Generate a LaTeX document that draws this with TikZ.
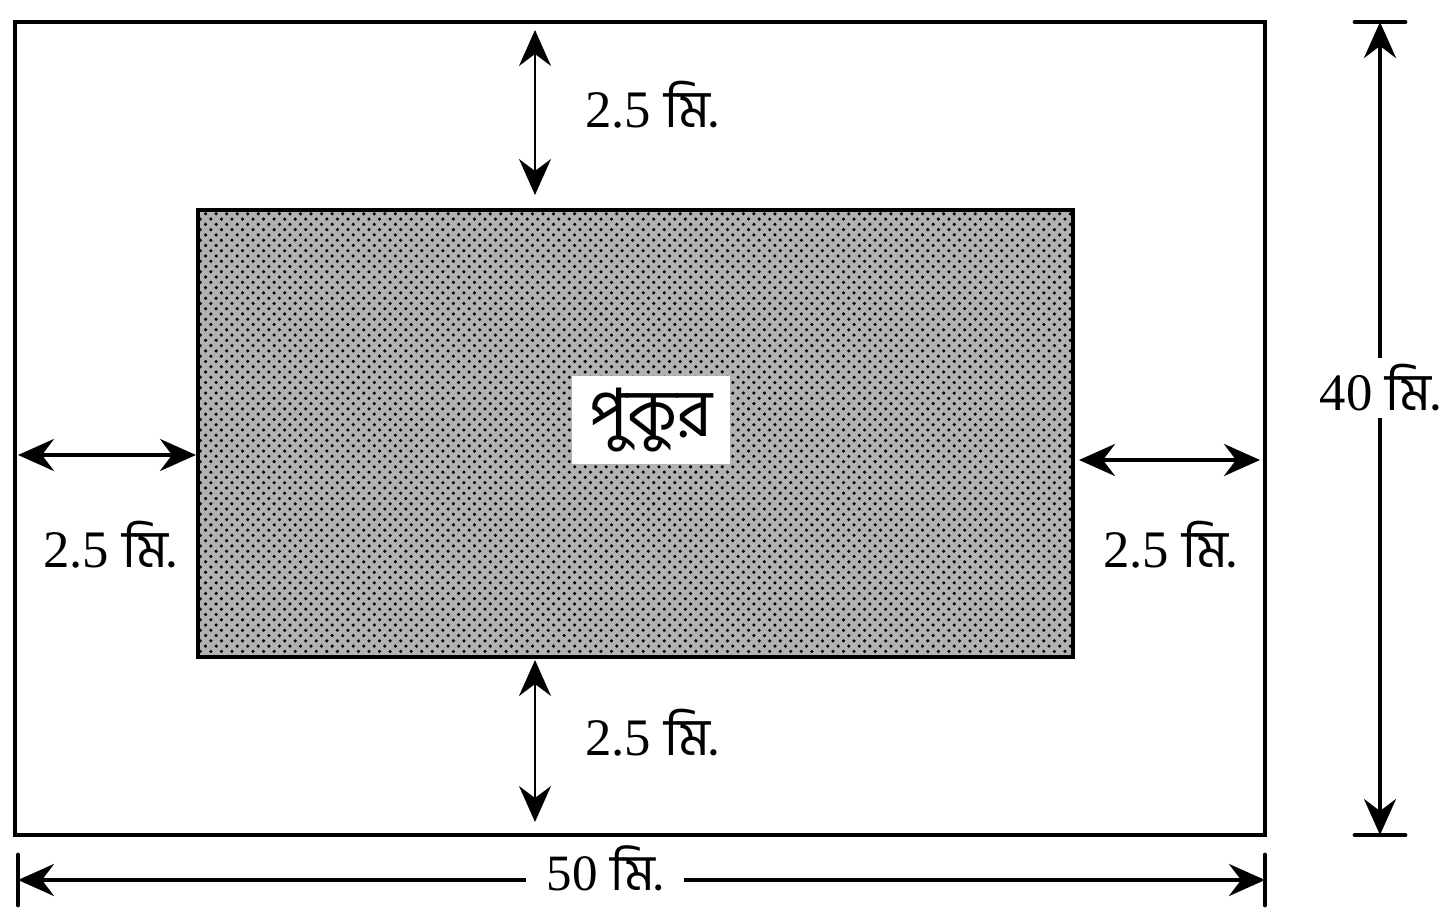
\documentclass[tikz,border=0pt]{standalone}
\usepackage{fontspec}
\setmainfont{Liberation Serif}
\newfontfamily\bngfont[Script=Bengali]{Hind Siliguri}
\usetikzlibrary{arrows.meta, positioning, patterns}

\newcommand{\mi}{\bngfont মি.}

\begin{document}
\begin{tikzpicture}[
        >={Stealth[length=3.6mm, width=3.2mm, inset=1.2mm]},
        every node/.style={font=\fontsize{15}{18}\selectfont},
        wall/.style={line width=1.2pt},
        dim/.style={<->, line width=1.1pt},
        tick/.style={line width=1.4pt, line cap=round},
        lbl/.style={fill=white, inner sep=2pt}
    ]
        \useasboundingbox (0,0) rectangle (14.54,-9.15);

        % বাগান ও পুকুর
        \coordinate (g1) at (0.15,-0.22);
        \coordinate (g2) at (12.65,-8.35);
        \draw[wall] (g1) rectangle (g2);
        \coordinate (p1) at (1.98,-2.10);
        \coordinate (p2) at (10.73,-6.57);
        \fill[gray!60] (p1) rectangle (p2);
        \fill[pattern=crosshatch dots, pattern color=black] (p1) rectangle (p2);
        \draw[wall] (p1) rectangle (p2);
        \node[fill=white, minimum width=1.58cm, minimum height=0.75cm,
              font=\fontsize{19}{22}\selectfont\bngfont] (pond) at (6.51,-4.20) {পুকুর};

        % রাস্তার প্রস্থ
        \coordinate (t1) at (5.35,-0.30);
        \coordinate (t2) at (5.35,-1.95);
        \draw[dim, line width=0.7pt] (t1) -- (t2);
        \node (tl) at (6.52,-1.05) {2.5 \mi};

        \coordinate (b1) at (5.35,-6.60);
        \coordinate (b2) at (5.35,-8.22);
        \draw[dim, line width=0.7pt] (b1) -- (b2);
        \node (bl) at (6.52,-7.33) {2.5 \mi};

        \coordinate (l1) at (0.18,-4.55);
        \coordinate (l2) at (1.96,-4.55);
        \draw[dim] (l1) -- (l2);
        \node (ll) at (1.10,-5.45) {2.5 \mi};

        \coordinate (r1) at (10.79,-4.60);
        \coordinate (r2) at (12.60,-4.60);
        \draw[dim] (r1) -- (r2);
        \node (rl) at (11.70,-5.45) {2.5 \mi};

        % মোট মাপ
        \coordinate (h1) at (13.80,-0.22);
        \coordinate (h2) at (13.80,-8.35);
        \draw[tick] (13.55,-0.22) -- (14.05,-0.22);
        \draw[tick] (13.55,-8.35) -- (14.05,-8.35);
        \draw[dim] (h1) -- (h2);
        \node[lbl] (hl) at (13.80,-3.88) {40 \mi};

        \coordinate (w1) at (0.18,-8.80);
        \coordinate (w2) at (12.65,-8.80);
        \draw[tick] (0.18,-8.55) -- (0.18,-9.05);
        \draw[tick] (12.65,-8.55) -- (12.65,-9.05);
        \draw[dim] (w1) -- (w2);
        \node[lbl, inner xsep=6pt, inner ysep=0pt, font=\fontsize{14.5}{17}\selectfont] (wl) at (6.05,-8.68) {50 \mi};
    \end{tikzpicture}
\end{document}
